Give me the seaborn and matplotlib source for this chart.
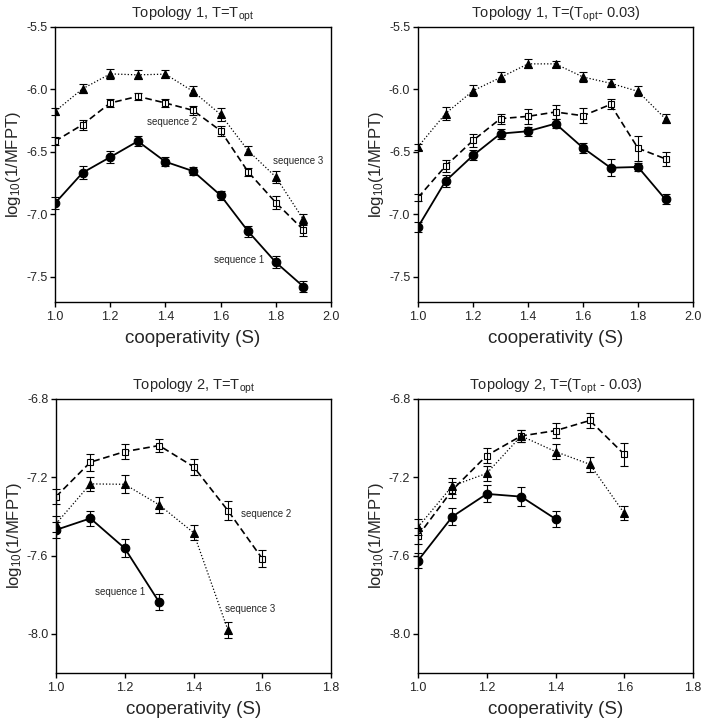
import matplotlib
matplotlib.use("Agg")
import matplotlib.pyplot as plt
import seaborn as sns

# cooperativity values
s_full = [1.0, 1.1, 1.2, 1.3, 1.4, 1.5, 1.6, 1.7, 1.8, 1.9]

# Topology 1, T = Topt
t1a_seq1 = [-6.91, -6.666, -6.541, -6.414, -6.578, -6.653, -6.847, -7.136, -7.383, -7.577]
t1a_seq1_err = [0.05, 0.05, 0.045, 0.042, 0.038, 0.035, 0.035, 0.044, 0.048, 0.046]
t1a_seq2 = [-6.414, -6.281, -6.108, -6.055, -6.108, -6.167, -6.33, -6.66, -6.905, -7.123]
t1a_seq2_err = [0.03, 0.04, 0.035, 0.03, 0.035, 0.035, 0.04, 0.035, 0.05, 0.046]
t1a_seq3 = [-6.175, -5.994, -5.875, -5.883, -5.877, -6.015, -6.2, -6.49, -6.7, -7.04]
t1a_seq3_err = [0.03, 0.035, 0.038, 0.035, 0.03, 0.04, 0.05, 0.037, 0.05, 0.046]

# Topology 1, T = Topt - 0.03
t1b_seq1 = [-7.1, -6.733, -6.528, -6.353, -6.334, -6.273, -6.467, -6.626, -6.62, -6.88]
t1b_seq1_err = [0.04, 0.05, 0.04, 0.04, 0.035, 0.035, 0.04, 0.07, 0.035, 0.04]
t1b_seq2 = [-6.865, -6.613, -6.408, -6.233, -6.215, -6.18, -6.21, -6.12, -6.47, -6.555]
t1b_seq2_err = [0.03, 0.045, 0.05, 0.04, 0.06, 0.057, 0.06, 0.04, 0.1, 0.055]
t1b_seq3 = [-6.459, -6.193, -6.01, -5.904, -5.795, -5.795, -5.9, -5.95, -6.015, -6.235]
t1b_seq3_err = [0.025, 0.05, 0.045, 0.04, 0.035, 0.025, 0.04, 0.03, 0.04, 0.035]

# Topology 2, T = Topt
t2a_s1 = [1.0, 1.1, 1.2, 1.3]
t2a_seq1 = [-7.469, -7.41, -7.563, -7.838]
t2a_seq1_err = [0.04, 0.04, 0.046, 0.04]
t2a_s2 = [1.0, 1.1, 1.2, 1.3, 1.4, 1.5, 1.6]
t2a_seq2 = [-7.299, -7.123, -7.069, -7.038, -7.146, -7.37, -7.616]
t2a_seq2_err = [0.04, 0.043, 0.04, 0.035, 0.04, 0.047, 0.042]
t2a_s3 = [1.0, 1.1, 1.2, 1.3, 1.4, 1.5]
t2a_seq3 = [-7.438, -7.234, -7.236, -7.341, -7.483, -7.98]
t2a_seq3_err = [0.04, 0.035, 0.047, 0.04, 0.037, 0.04]

# Topology 2, T = Topt - 0.03
t2b_s1 = [1.0, 1.1, 1.2, 1.3, 1.4]
t2b_seq1 = [-7.626, -7.401, -7.285, -7.299, -7.413]
t2b_seq1_err = [0.04, 0.043, 0.043, 0.047, 0.043]
t2b_s2 = [1.0, 1.1, 1.2, 1.3, 1.4, 1.5, 1.6]
t2b_seq2 = [-7.5, -7.265, -7.089, -6.989, -6.962, -6.91, -7.083]
t2b_seq2_err = [0.04, 0.04, 0.04, 0.03, 0.04, 0.04, 0.06]
t2b_s3 = [1.0, 1.1, 1.2, 1.3, 1.4, 1.5, 1.6]
t2b_seq3 = [-7.455, -7.244, -7.18, -6.989, -7.069, -7.134, -7.384]
t2b_seq3_err = [0.04, 0.04, 0.04, 0.03, 0.037, 0.037, 0.036]

titles = ["Topology 1, T=T$_{opt}$", "Topology 1, T=(T$_{opt}$- 0.03)",
          "Topology 2, T=T$_{opt}$", "Topology 2, T=(T$_{opt}$ - 0.03)"]

sns.set_style("ticks")
plt.rcParams["font.family"] = ["Liberation Sans", "DejaVu Sans"]
plt.rcParams["mathtext.default"] = "regular"
plt.rcParams["axes.unicode_minus"] = False
plt.rcParams["axes.linewidth"] = 1.0
plt.rcParams["xtick.major.size"] = 3.5
plt.rcParams["ytick.major.size"] = 3.5
plt.rcParams["xtick.major.pad"] = 3
plt.rcParams["ytick.major.pad"] = 2

# line style for each sequence: (linestyle, marker, size, face, width)
seq_styles = {
    1: ("-", "o", 6.2, "black", 1.3),
    2: ((0, (4, 2.2)), "s", 4.6, "white", 1.2),
    3: ((0, (1, 1.6)), "^", 5.2, "black", 0.9),
}


def draw_series(ax, x, y, err, seq):
    ls, mk, ms, fc, lw = seq_styles[seq]
    sns.lineplot(x=x, y=y, ax=ax, color="black", linestyle=ls, linewidth=lw,
                 marker=mk, markersize=ms, markerfacecolor=fc,
                 markeredgecolor="black", markeredgewidth=0.8, errorbar=None)
    ax.errorbar(x, y, yerr=err, fmt="none", ecolor="black", elinewidth=0.8,
                capsize=2.7, capthick=0.8, clip_on=False, zorder=4)


fig = plt.figure(figsize=(7.01, 7.20), dpi=100)
ax1 = fig.add_axes([0.0785, 0.5806, 0.3937, 0.3819])
ax2 = fig.add_axes([0.5963, 0.5806, 0.3923, 0.3819])
ax3 = fig.add_axes([0.0799, 0.0653, 0.3923, 0.3806])
ax4 = fig.add_axes([0.5963, 0.0653, 0.3923, 0.3806])

draw_series(ax1, s_full, t1a_seq1, t1a_seq1_err, 1)
draw_series(ax1, s_full, t1a_seq2, t1a_seq2_err, 2)
draw_series(ax1, s_full, t1a_seq3, t1a_seq3_err, 3)
ax1.text(1.424, -6.257, "sequence 2", ha="center", va="center", fontsize=7)
ax1.text(1.882, -6.573, "sequence 3", ha="center", va="center", fontsize=7)
ax1.text(1.668, -7.362, "sequence 1", ha="center", va="center", fontsize=7)

draw_series(ax2, s_full, t1b_seq1, t1b_seq1_err, 1)
draw_series(ax2, s_full, t1b_seq2, t1b_seq2_err, 2)
draw_series(ax2, s_full, t1b_seq3, t1b_seq3_err, 3)

draw_series(ax3, t2a_s1, t2a_seq1, t2a_seq1_err, 1)
draw_series(ax3, t2a_s2, t2a_seq2, t2a_seq2_err, 2)
draw_series(ax3, t2a_s3, t2a_seq3, t2a_seq3_err, 3)
ax3.text(1.61, -7.387, "sequence 2", ha="center", va="center", fontsize=7)
ax3.text(1.566, -7.873, "sequence 3", ha="center", va="center", fontsize=7)
ax3.text(1.186, -7.787, "sequence 1", ha="center", va="center", fontsize=7)

draw_series(ax4, t2b_s1, t2b_seq1, t2b_seq1_err, 1)
draw_series(ax4, t2b_s2, t2b_seq2, t2b_seq2_err, 2)
draw_series(ax4, t2b_s3, t2b_seq3, t2b_seq3_err, 3)

for i, ax in enumerate([ax1, ax2, ax3, ax4]):
    if i < 2:
        ax.set_xlim(1.0, 2.0)
        ax.set_ylim(-7.7, -5.5)
        ax.set_xticks([1.0, 1.2, 1.4, 1.6, 1.8, 2.0])
        ax.set_yticks([-7.5, -7.0, -6.5, -6.0, -5.5])
    else:
        ax.set_xlim(1.0, 1.8)
        ax.set_ylim(-8.2, -6.8)
        ax.set_xticks([1.0, 1.2, 1.4, 1.6, 1.8])
        ax.set_yticks([-8.0, -7.6, -7.2, -6.8])
    ax.xaxis.set_major_formatter(matplotlib.ticker.FormatStrFormatter("%.1f"))
    ax.yaxis.set_major_formatter(matplotlib.ticker.FormatStrFormatter("%.1f"))
    ax.tick_params(labelsize=9, width=1.0, color="black")
    for sp in ax.spines.values():
        sp.set_visible(True)
        sp.set_color("black")
    ax.set_title(titles[i], fontsize=10.5, pad=7)
    ax.set_xlabel("cooperativity (S)", fontsize=13.5, labelpad=5)
    ax.set_ylabel("log$_{10}$(1/MFPT)", fontsize=12, labelpad=2)

fig.savefig("out.png", dpi=100)
